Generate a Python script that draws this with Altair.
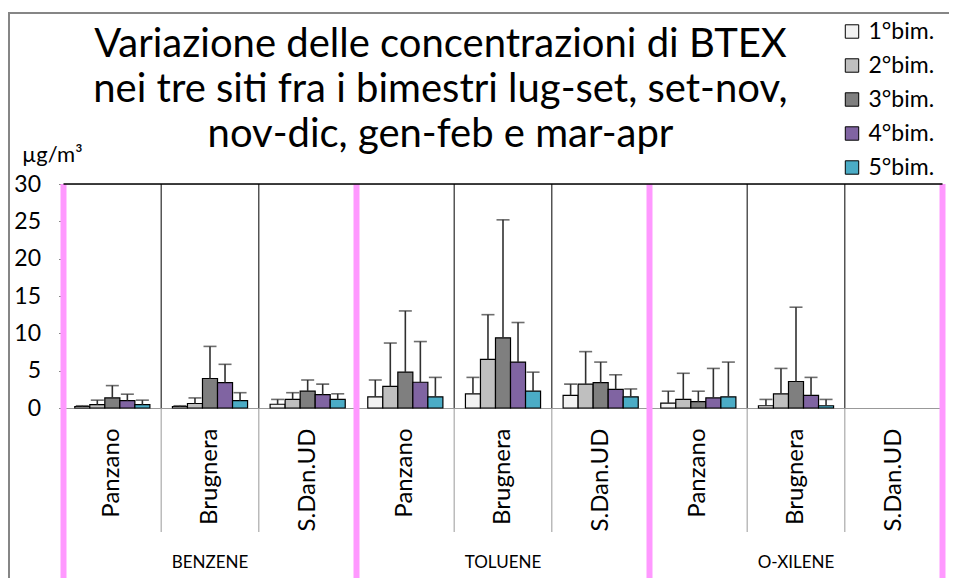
import altair as alt
import pandas as pd

groups = ["BENZENE", "TOLUENE", "O-XILENE"]
sites = ["Panzano", "Brugnera", "S.Dan.UD"]
bims = ["1°bim.", "2°bim.", "3°bim.", "4°bim.", "5°bim."]
colors = ["#F2F2F2", "#BFBFBF", "#7F7F7F", "#8064A2", "#4BACC6"]

# mean values (µg/m3) per group/site, one per bimester
means = {
    ("BENZENE", "Panzano"): [0.2, 0.45, 1.35, 1.0, 0.45],
    ("BENZENE", "Brugnera"): [0.2, 0.6, 3.95, 3.4, 1.0],
    ("BENZENE", "S.Dan.UD"): [0.5, 1.15, 2.25, 1.8, 1.15],
    ("TOLUENE", "Panzano"): [1.5, 2.9, 4.8, 3.45, 1.5],
    ("TOLUENE", "Brugnera"): [1.9, 6.5, 9.4, 6.15, 2.25],
    ("TOLUENE", "S.Dan.UD"): [1.7, 3.2, 3.4, 2.5, 1.5],
    ("O-XILENE", "Panzano"): [0.65, 1.15, 0.85, 1.35, 1.5],
    ("O-XILENE", "Brugnera"): [0.3, 1.9, 3.55, 1.7, 0.3],
}
# upper end of error bars
upper = {
    ("BENZENE", "Panzano"): [0.3, 1.05, 3.0, 1.85, 1.05],
    ("BENZENE", "Brugnera"): [0.3, 1.35, 8.25, 5.85, 2.05],
    ("BENZENE", "S.Dan.UD"): [1.15, 2.05, 3.75, 3.2, 1.9],
    ("TOLUENE", "Panzano"): [3.75, 8.7, 13.0, 8.9, 4.1],
    ("TOLUENE", "Brugnera"): [4.1, 12.5, 25.2, 11.45, 4.8],
    ("TOLUENE", "S.Dan.UD"): [3.2, 7.55, 6.15, 4.45, 2.55],
    ("O-XILENE", "Panzano"): [2.25, 4.65, 2.25, 5.3, 6.15],
    ("O-XILENE", "Brugnera"): [1.15, 5.3, 13.5, 4.1, 1.15],
}

title_lines = ["Variazione delle concentrazioni di BTEX",
               "nei tre siti fra i bimestri lug-set, set-nov,",
               "nov-dic, gen-feb e mar-apr"]
y_ticks = [0, 5, 10, 15, 20, 25, 30]

keys = [g + "|" + s for g in groups for s in sites]

rows = []
for (g, s), vals in means.items():
    for b, v, u in zip(bims, vals, upper[(g, s)]):
        rows.append({"key": g + "|" + s, "bim": b, "value": v, "err": u})
df = pd.DataFrame(rows)

div_rows = []
for i, k in enumerate(keys):
    div_rows.append({"key": k, "kind": "pink" if i % 3 == 0 else "black"})
df_div = pd.DataFrame(div_rows)
df_last = pd.DataFrame({"key": [keys[-1]]})
df_groups = pd.DataFrame({"key": [g + "|" + sites[1] for g in groups], "group": groups})

FONT = "Lato"
W, H = 879, 224

xaxis = alt.Axis(title=None, labelAngle=-90, labelPadding=20, ticks=False,
                 domainColor="#999999", domainWidth=1, labelFontSize=24,
                 labelColor="black", labelFont=FONT,
                 labelExpr="split(datum.label, '|')[1]")
xscale = alt.Scale(paddingInner=0, paddingOuter=0)


def X(bp=None):
    if bp is None:
        return alt.X("key:N", sort=keys, scale=xscale, axis=xaxis)
    return alt.X("key:N", sort=keys, scale=xscale, axis=xaxis, bandPosition=bp)


yaxis = alt.Axis(values=y_ticks, title=None, grid=False, domain=False,
                 tickColor="#868686", tickSize=5, labelFontSize=23,
                 labelPadding=18, labelColor="black", labelFont=FONT,
                 labelOverlap=False)
yscale = alt.Scale(domain=[0, 30], nice=False)


def Y(field):
    return alt.Y(field, scale=yscale, axis=yaxis)


xoff = alt.XOffset("bim:N", sort=bims, scale=alt.Scale(paddingInner=0, paddingOuter=0.75))

bars = alt.Chart(df).mark_bar(stroke="black", strokeWidth=1.2).encode(
    x=X(), xOffset=xoff, y=Y("value:Q"),
    color=alt.Color("bim:N", sort=bims, scale=alt.Scale(domain=bims, range=colors),
                    legend=alt.Legend(orient="none", legendX=777, legendY=-164,
                                      title=None, symbolType="square", symbolSize=180,
                                      symbolStrokeColor="black", symbolStrokeWidth=1,
                                      symbolOpacity=1, labelFontSize=23, labelFont=FONT,
                                      labelColor="black", rowPadding=10, padding=0,
                                      labelOffset=5)),
)

err_line = alt.Chart(df).mark_rule(color="#303030", strokeWidth=1.6).encode(
    x=X(), xOffset=xoff, y=Y("value:Q"), y2="err:Q")
err_cap = alt.Chart(df).mark_tick(color="#303030", thickness=1.6, size=13).encode(
    x=X(), xOffset=xoff, y=Y("err:Q"))

# inner black dividers (plot area)
black_div = alt.Chart(df_div).transform_filter("datum.kind == 'black'").mark_rule(
    color="black", strokeWidth=1).encode(x=X(0), y=alt.value(0), y2=alt.value(H))
# gray dividers below axis
gray_div = alt.Chart(df_div).transform_filter("datum.kind == 'black'").mark_rule(
    color="#999999", strokeWidth=1).encode(x=X(0), y=alt.value(H), y2=alt.value(348))
# pink group separators
pink_div = alt.Chart(df_div).transform_filter("datum.kind == 'pink'").mark_rule(
    color="#FF99FF", strokeWidth=6).encode(x=X(0), y=alt.value(0), y2=alt.value(394))
pink_last = alt.Chart(df_last).mark_rule(color="#FF99FF", strokeWidth=6).encode(
    x=X(1), y=alt.value(0), y2=alt.value(394))

top_line = alt.Chart(df_last).mark_rule(color="black", strokeWidth=1.5).encode(
    x=alt.value(0), x2=alt.value(W), y=alt.value(0))

group_labels = alt.Chart(df_groups).mark_text(fontSize=17, font=FONT, color="black").encode(
    x=X(), y=alt.value(379), text="group:N")

title = alt.Chart(df_last).mark_text(text=title_lines, fontSize=40, font=FONT,
                                     color="black", lineHeight=45, baseline="middle",
                                     align="center").encode(
    x=alt.value(377), y=alt.value(-139))
unit = alt.Chart(df_last).mark_text(text="µg/m³", fontSize=22, font=FONT, color="black",
                                    align="left", baseline="middle").encode(
    x=alt.value(-41.5), y=alt.value(-29))

border = alt.Chart(df_last).mark_rect(fill=None, stroke="#868686", strokeWidth=2).encode(
    x=alt.value(-54.5), x2=alt.value(W + 30), y=alt.value(-171), y2=alt.value(420))

chart = alt.layer(
    border, black_div, gray_div, bars, err_line, err_cap,
    pink_div, pink_last, top_line, group_labels, title, unit
).properties(
    width=W, height=H,
    autosize=alt.AutoSizeParams(type="none"),
    padding={"left": 55.5, "top": 176, "right": 6, "bottom": 170},
).configure_view(stroke=None).configure(font=FONT)

chart.save("out.html", embed_options={"renderer": "svg", "actions": False})
